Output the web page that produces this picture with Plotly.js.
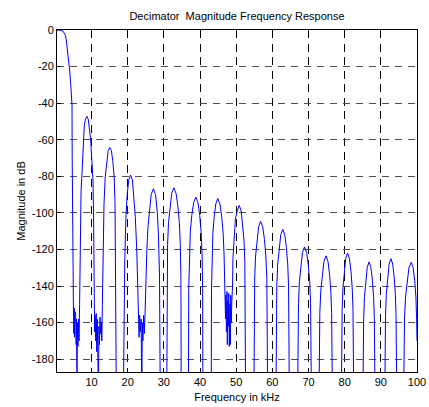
<!DOCTYPE html>
<html>
<head>
<meta charset="utf-8">
<script src="https://cdn.plot.ly/plotly-3.0.1.min.js"></script>
<style>html,body{margin:0;padding:0;background:#fff;}#chart{width:429px;height:407px;}</style>
</head>
<body>
<div id="chart"></div>
<script>
// Frequency points (kHz), lobe by lobe
const freqKHz = [
  // main lobe
  0.45, 1.0, 1.5, 2.1, 2.45, 2.75, 3.0, 3.2, 3.45, 3.65, 3.95, 4.25, 4.45, 4.6, 4.65, 4.72, 4.85,
  // null cluster near 6 kHz
  5.0, 5.1, 5.2, 5.3, 5.4, 5.5, 5.6, 5.75, 5.85, 5.97, 6.1, 6.25, 6.4, 6.55, 6.7,
  // lobe 1
  6.88, 7.1, 7.35, 7.7, 8.0, 8.35, 8.73, 9.1, 9.45, 9.75, 10.1, 10.4, 10.55, 10.7,
  // null cluster near 12 kHz
  10.85, 11.0, 11.15, 11.3, 11.45, 11.6, 11.75, 11.9, 12.05, 12.2, 12.35, 12.5, 12.7, 12.85, 13.0,
  // lobe 2
  13.2, 13.45, 13.8, 14.2, 14.6, 15.05, 15.5, 15.9, 16.25, 16.5, 16.7, 16.85,
  // lobe 3
  18.8, 19.0, 19.2, 19.5, 19.85, 20.3, 20.8, 21.3, 21.7, 22.1, 22.5, 22.8, 23.0,
  // null cluster near 24 kHz
  23.15, 23.3, 23.5, 23.7, 23.9, 24.05, 24.2, 24.4, 24.6, 24.8,
  // lobe 4
  25.0, 25.3, 25.6, 26.0, 26.5, 27.1, 27.7, 28.2, 28.5, 28.8, 29.0,
  // lobe 5
  30.80, 30.88, 31.03, 31.29, 31.68, 32.17, 32.75, 33.37, 33.88, 34.29, 34.55, 34.72, 34.80,
  // lobe 6
  36.80, 36.88, 37.05, 37.31, 37.72, 38.24, 38.85, 39.44, 39.92, 40.31, 40.57, 40.72, 40.80,
  // lobe 7
  43.10, 43.17, 43.32, 43.55, 43.91, 44.36, 44.9, 45.5, 46.0, 46.4, 46.65, 46.85,
  // null cluster near 48 kHz
  46.9, 47.05, 47.15, 47.3, 47.45, 47.55, 47.7, 47.85, 47.95, 48.1, 48.25, 48.4, 48.5, 48.65, 48.8, 49.0,
  // lobe 8
  49.1, 49.4, 49.8, 50.3, 50.85, 51.38, 51.81, 52.16, 52.39, 52.53, 52.60,
  // lobe 9
  54.90, 54.97, 55.12, 55.36, 55.73, 56.20, 56.75, 57.34, 57.82, 58.21, 58.47, 58.62, 58.70,
  // lobe 10
  61.00, 61.08, 61.23, 61.48, 61.86, 62.33, 62.9, 63.44, 63.89, 64.25, 64.48, 64.63, 64.70,
  // lobe 11
  67.00, 67.08, 67.23, 67.48, 67.86, 68.33, 68.9, 69.47, 69.95, 70.33, 70.57, 70.72, 70.80,
  // lobe 12
  72.90, 72.98, 73.13, 73.39, 73.78, 74.27, 74.85, 75.38, 75.81, 76.16, 76.39, 76.53, 76.60,
  // lobe 13
  79.10, 79.17, 79.30, 79.53, 79.87, 80.29, 80.8, 81.31, 81.74, 82.08, 82.30, 82.43, 82.50,
  // lobe 14
  85.05, 85.12, 85.25, 85.48, 85.82, 86.24, 86.75, 87.25, 87.66, 87.99, 88.20, 88.33, 88.40,
  // lobe 15
  91.10, 91.17, 91.30, 91.53, 91.87, 92.29, 92.8, 93.28, 93.68, 94.00, 94.21, 94.34, 94.40,
  // lobe 16
  96.30, 96.38, 96.55, 96.83, 97.25, 97.77, 98.4, 98.93, 99.36, 99.7, 99.9, 100.0
];

// Magnitude (dB) at those points
const magnitudeDB = [
  0, -0.05, -0.2, -0.6, -1.5, -2.9, -5.2, -8.5, -12.5, -16, -22, -30, -36, -41, -70, -110, -150,
  -153, -166, -152, -168, -154, -165, -155, -172, -158, -200, -160, -173, -158, -170, -150,
  -100, -88, -79, -60, -52, -48.5, -47.2, -49, -54, -60, -72, -82, -100, -150,
  -165, -156, -170, -155, -176, -158, -168, -200, -162, -172, -157, -166, -160, -170, -150,
  -115, -95, -80, -71, -66, -64.3, -66, -72, -80, -95, -130, -200,
  -200, -160, -125, -103, -90, -82, -79.3, -82, -90, -102, -120, -140, -155,
  -168, -156, -165, -158, -200, -160, -170, -156, -166, -155,
  -135, -120, -108, -100, -90, -86.8, -90, -100, -112, -135, -200,
  -200, -136.3, -117.3, -105.3, -96.3, -89.3, -86.3, -89.3, -96.3, -105.3, -117.3, -136.3, -200,
  -200, -141.4, -122.4, -110.4, -101.4, -94.4, -91.4, -94.4, -101.4, -110.4, -122.4, -141.4, -200,
  -200, -142.1, -123.1, -111.1, -102.1, -95.1, -92.1, -95.1, -102.1, -111.1, -123.1, -140,
  -143, -158, -145, -165, -143, -172, -148, -162, -144, -173, -150, -172, -145, -160, -148, -140,
  -125, -112, -103, -98.9, -95.9, -98.9, -105.9, -114.9, -126.9, -145.9, -200,
  -200, -154.6, -135.6, -123.6, -114.6, -107.6, -104.6, -107.6, -114.6, -123.6, -135.6, -154.6, -200,
  -200, -159, -140, -128, -119, -112, -109, -112, -119, -128, -140, -159, -200,
  -200, -168.6, -149.6, -137.6, -128.6, -121.6, -118.6, -121.6, -128.6, -137.6, -149.6, -168.6, -200,
  -200, -173.5, -154.5, -142.5, -133.5, -126.5, -123.5, -126.5, -133.5, -142.5, -154.5, -173.5, -200,
  -200, -171.9, -152.9, -140.9, -131.9, -124.9, -121.9, -124.9, -131.9, -140.9, -152.9, -171.9, -200,
  -200, -176.8, -157.8, -145.8, -136.8, -129.8, -126.8, -129.8, -136.8, -145.8, -157.8, -176.8, -200,
  -200, -175, -156, -144, -135, -128, -125, -128, -135, -144, -156, -175, -200,
  -200, -177, -158, -146, -137, -130, -127, -130, -137, -146, -158, -170
];

const xTickValues = [10, 20, 30, 40, 50, 60, 70, 80, 90, 100];
const xTickLabels = ['10', '20', '30', '40', '50', '60', '70', '80', '90', '100'];
const yTickValues = [-180, -160, -140, -120, -100, -80, -60, -40, -20, 0];
const yTickLabels = ['-180', '-160', '-140', '-120', '-100', '-80', '-60', '-40', '-20', '0'];

const chartTitle = 'Decimator&nbsp; Magnitude Frequency Response';
const xTitle = 'Frequency in kHz';
const yTitle = 'Magnitude in dB';

const FONT = 'Liberation Sans, Arial, Helvetica, sans-serif';

const trace = {
  x: freqKHz, y: magnitudeDB, type: 'scatter', mode: 'lines',
  line: {color: '#0000ff', width: 1},
  hoverinfo: 'skip'
};

const layout = {
  width: 429, height: 407,
  margin: {l: 57, r: 12, t: 30, b: 35, pad: 0},
  paper_bgcolor: '#ffffff', plot_bgcolor: '#ffffff',
  showlegend: false,
  font: {family: FONT, size: 11, color: '#000'},
  title: {
    text: chartTitle,
    font: {family: FONT, size: 11, color: '#000'},
    x: 0.5, xref: 'paper', xanchor: 'center',
    y: 1 - 16.5 / 407, yref: 'container', yanchor: 'middle'
  },
  xaxis: {
    range: [0.45, 100], autorange: false,
    tickmode: 'array', tickvals: xTickValues, ticktext: xTickLabels,
    showgrid: true, gridcolor: '#000', gridwidth: 1, griddash: '8px,5.5px',
    zeroline: false,
    showline: true, mirror: true, linecolor: '#000', linewidth: 1,
    ticks: 'inside', ticklen: 4, tickcolor: '#000', tickwidth: 1,
    tickfont: {family: FONT, size: 11, color: '#000'},
    title: {text: xTitle, font: {family: FONT, size: 11, color: '#000'}, standoff: 6}
  },
  yaxis: {
    range: [-187, 0], autorange: false,
    tickmode: 'array', tickvals: yTickValues, ticktext: yTickLabels,
    showgrid: true, gridcolor: '#505050', gridwidth: 1, griddash: '7px,6px',
    zeroline: false,
    showline: true, mirror: true, linecolor: '#000', linewidth: 1,
    ticks: 'inside', ticklen: 4, tickcolor: '#000', tickwidth: 1,
    tickfont: {family: FONT, size: 11, color: '#000'},
    title: {text: yTitle, font: {family: FONT, size: 11, color: '#000'}, standoff: 3}
  }
};

Plotly.newPlot('chart', [trace], layout, {staticPlot: true, displayModeBar: false});
</script>
</body>
</html>
